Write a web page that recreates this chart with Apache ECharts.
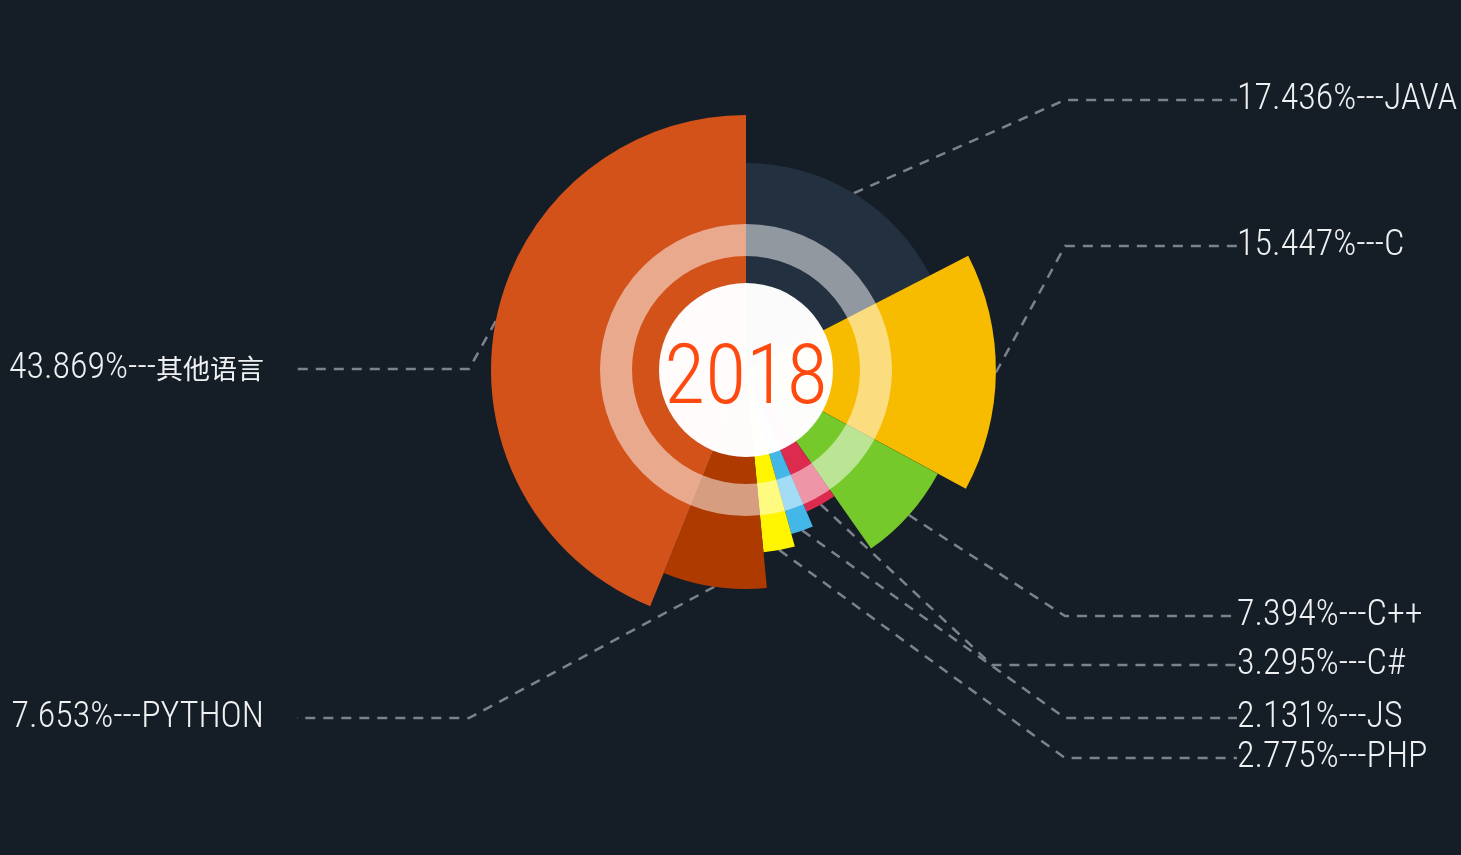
<!DOCTYPE html>
<html><head><meta charset="utf-8">
<script src="https://cdn.jsdelivr.net/npm/echarts@6/dist/echarts.min.js"></script>
<style>html,body{margin:0;background:#151d27}#c{width:1461px;height:855px}</style></head>
<body><div id="c"></div>
<script>
// ---- data ----
const languages = ['JAVA', 'C', 'C++', 'C#', 'JS', 'PHP', 'PYTHON', '其他语言'];
const shares = [17.436, 15.447, 7.394, 3.295, 2.131, 2.775, 7.653, 43.869];   // % (sector angle)
const reach = [81.2, 98.0, 85.5, 60.4, 66.7, 71.8, 85.9, 100];               // relative sector length
const yearText = '2018';

// ---- style ----
const palette = ['#233040', '#f7bb00', '#76c92a', '#dc2b4f', '#44b7e9', '#fff500', '#ae3a00', '#d2521a'];
const CENTER = [746, 370];
const MAX_R = 255;
const labelPlace = {   // label anchor: [side, y]
  'JAVA': ['R', 100], 'C': ['R', 246], 'C++': ['R', 616], 'C#': ['R', 665],
  'JS': ['R', 718], 'PHP': ['R', 758], 'PYTHON': ['L', 718], '其他语言': ['L', 369]
};
const lineStyle = { color: '#7b828b', width: 2.5, type: [10, 8] };

const chart = echarts.init(document.getElementById('c'));

const series = languages.map((name, i) => {
  const left = labelPlace[name][0] === 'L';
  return {
    type: 'pie',
    center: CENTER,
    radius: [0, reach[i] / 100 * MAX_R],
    startAngle: 90,
    clockwise: true,
    avoidLabelOverlap: false,
    silent: true,
    z: 2,
    emphasis: { disabled: true },
    label: {
      formatter: p => {
        const cn = /[\u4e00-\u9fa5]/.test(p.name);
        return '{n|' + p.value.toFixed(3) + '%---}{' + (cn ? 'c' : 'n') + '|' + p.name + '}' + (left ? '{sp|}' : '');
      },
      rich: {
        n: { fontFamily: 'Roboto Condensed', fontWeight: 300, fontSize: 36, color: '#eef0f2' },
        c: { fontFamily: 'Noto Sans CJK SC', fontWeight: 400, fontSize: 27, color: '#eef0f2' },
        sp: { width: 33 }
      }
    },
    labelLine: {
      length: 20,
      length2: name === 'C#' ? 245 : 172,
      minTurnAngle: 90,
      lineStyle: lineStyle
    },
    labelLayout: params => {
      const pl = labelPlace[name];
      return pl[0] === 'R'
        ? { x: 1237, y: pl[1], align: 'left', verticalAlign: 'middle' }
        : { x: 297, y: pl[1], align: 'right', verticalAlign: 'middle' };
    },
    data: languages.map((n, j) => ({
      name: n,
      value: shares[j],
      itemStyle: { color: j === i ? palette[i] : 'rgba(0,0,0,0)' },
      label: { show: j === i },
      labelLine: { show: j === i }
    }))
  };
});

series.push({
  type: 'pie', center: CENTER, radius: [114, 146], silent: true, z: 3,
  label: { show: false }, labelLine: { show: false }, emphasis: { disabled: true },
  data: [{ value: 1, itemStyle: { color: 'rgba(255,255,255,0.5)' } }]
});
series.push({
  type: 'pie', center: CENTER, radius: [0, 87], silent: true, z: 4,
  label: { show: false }, labelLine: { show: false }, emphasis: { disabled: true },
  data: [{ value: 1, itemStyle: { color: 'rgba(255,255,255,0.985)' } }]
});

chart.setOption({
  backgroundColor: '#151d27',
  animation: false,
  graphic: [{
    type: 'text', x: CENTER[0], y: CENTER[1] + 12, z: 10,
    style: { text: yearText, fill: '#ff4a0f', font: '300 84px "Roboto Condensed"', align: 'center', verticalAlign: 'middle' }
  }],
  series: series
});
</script></body></html>
